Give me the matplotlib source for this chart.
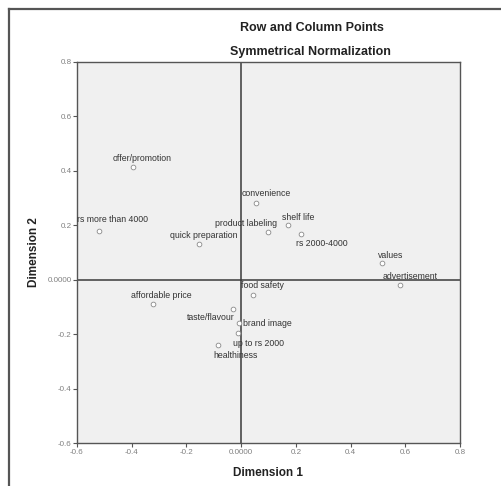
import matplotlib
matplotlib.use("Agg")
import matplotlib.pyplot as plt
import numpy as np

plt.rcParams["font.family"] = ["Liberation Sans", "DejaVu Sans"]

# correspondence analysis points (dimension 1, dimension 2)
labels = [
    "offer/promotion", "rs more than 4000", "quick preparation", "convenience",
    "product labeling", "shelf life", "rs 2000-4000", "values",
    "advertisement", "food safety", "affordable price", "taste/flavour",
    "brand image", "up to rs 2000", "healthiness",
]
dim1 = [-0.395, -0.519, -0.153, 0.055, 0.099, 0.172, 0.219, 0.515,
        0.581, 0.044, -0.322, -0.029, -0.007, -0.011, -0.084]
dim2 = [0.415, 0.178, 0.130, 0.281, 0.175, 0.200, 0.167, 0.061,
        -0.020, -0.057, -0.090, -0.108, -0.160, -0.197, -0.241]

xticks = [-0.6, -0.4, -0.2, 0.0, 0.2, 0.4, 0.6, 0.8]
xtick_labels = ["-0.6", "-0.4", "-0.2", "0.0000", "0.2", "0.4", "0.6", "0.8"]
yticks = [-0.6, -0.4, -0.2, 0.0, 0.2, 0.4, 0.6, 0.8]
ytick_labels = ["-0.6", "-0.4", "-0.2", "0.0000", "0.2", "0.4", "0.6", "0.8"]

# label offsets in pixels (left edge dx, centre dy), placed as SPSS did
label_off = {
    "offer/promotion": (-20, 8), "rs more than 4000": (-22, 12),
    "quick preparation": (-29, 9), "convenience": (-15, 10),
    "product labeling": (-53, 9), "shelf life": (-6, 8),
    "rs 2000-4000": (-5, -9), "values": (-4, 8),
    "advertisement": (-17, 9), "food safety": (-12, 10),
    "affordable price": (-22, 9), "taste/flavour": (-46, -8),
    "brand image": (4, 0), "up to rs 2000": (-5, -10),
    "healthiness": (-5, -10),
}

_DARK = "#3a3a3a"
_GREY = "#555555"
_PLOT_BG = "#f0f0f0"

fig = plt.figure(figsize=(5.02, 4.86), dpi=100, facecolor="white")
ax = fig.add_axes([77 / 502, 1 - 443 / 486, 383 / 502, 381 / 486])
ax.set_facecolor(_PLOT_BG)

# outer frame lines (top and left)
fig.add_artist(plt.Line2D([9 / 502, 1], [1 - 9 / 486] * 2, color="#555555",
                          lw=1.6, transform=fig.transFigure))
fig.add_artist(plt.Line2D([9 / 502] * 2, [0, 1 - 9 / 486], color="#555555",
                          lw=1.6, transform=fig.transFigure))

ax.axhline(0, color=_DARK, lw=1.1, zorder=1)
ax.axvline(0, color=_DARK, lw=1.1, zorder=1)

ax.plot(dim1, dim2, linestyle="none", marker="o", ms=3.4, mfc="white",
        mec="#8a8a8a", mew=0.6, zorder=3)

for name, x, y in zip(labels, dim1, dim2):
    dx, dy = label_off[name]
    ax.annotate(name, (x, y), xytext=(dx, dy), textcoords="offset pixels",
                ha="left", va="center", fontsize=6.3, color="#333333",
                zorder=4)

ax.set_xlim(-0.6, 0.8)
ax.set_ylim(-0.6, 0.8)
ax.set_xticks(xticks)
ax.set_xticklabels(xtick_labels)
ax.set_yticks(yticks)
ax.set_yticklabels(ytick_labels)
ax.tick_params(direction="out", length=3, width=0.8, colors=_GREY,
               labelsize=5.8, pad=1, labelcolor="#808080")
for spine in ax.spines.values():
    spine.set_color(_GREY)
    spine.set_linewidth(1.0)

ax.set_xlabel("Dimension 1", fontsize=8.5, fontweight="bold", labelpad=8,
              color="#222222")
ax.set_ylabel("Dimension 2", fontsize=8.5, fontweight="bold", labelpad=5,
              color="#222222")

fig.text(312 / 502, 1 - 28 / 486, "Row and Column Points", ha="center",
         va="center", fontsize=9, fontweight="bold", color="#222222")
fig.text(310 / 502, 1 - 52 / 486, "Symmetrical Normalization", ha="center",
         va="center", fontsize=9, fontweight="bold", color="#222222")

fig.savefig("out.png", dpi=100, facecolor="white")
